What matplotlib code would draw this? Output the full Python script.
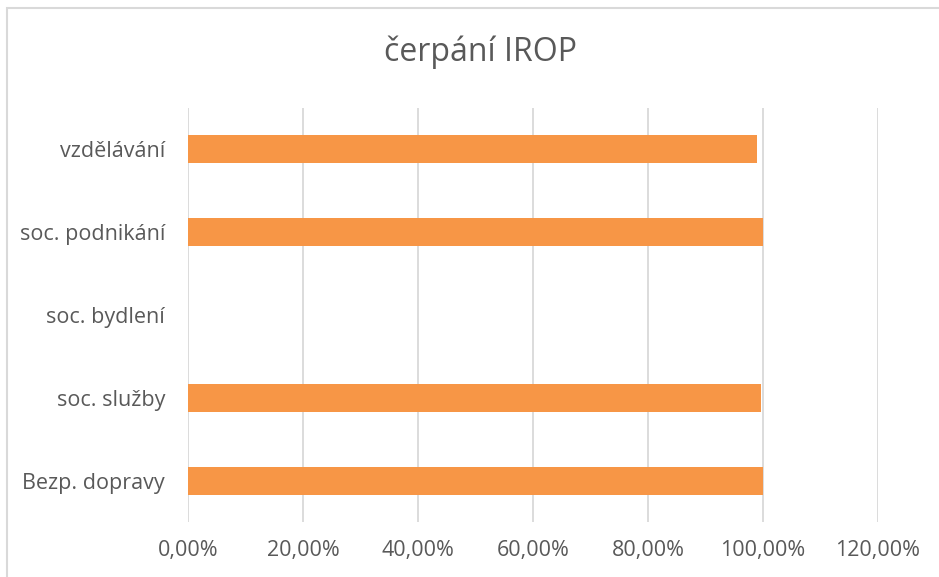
import matplotlib.pyplot as plt
from matplotlib.patches import Rectangle
from matplotlib.ticker import FuncFormatter

categories = ['Bezp. dopravy', 'soc. služby', 'soc. bydlení', 'soc. podnikání', 'vzdělávání']
values = [1.0, 0.997, 0.0, 1.0, 0.99]
xticks = [0, 0.2, 0.4, 0.6, 0.8, 1.0, 1.2]

plt.rcParams['font.family'] = ['Open Sans', 'DejaVu Sans']
text_color = '#595959'

fig = plt.figure(figsize=(9.39, 5.77), dpi=100)
W, H = 939, 577
ax = fig.add_axes([188 / W, 1 - 522 / H, (878 - 188) / W, (522 - 108) / H])

# chart border (cut off on right and bottom like the reference)
fig.patches.append(Rectangle((7 / W, -0.1), 1.2, 1 - 8 / H + 0.1, transform=fig.transFigure,
                             fill=False, edgecolor='#d9d9d9', linewidth=1.5))

ax.barh(range(len(categories)), values, height=0.34, color='#f79646', zorder=3)
ax.set_xlim(0, 1.2)
ax.set_ylim(-0.5, len(categories) - 0.5)
ax.set_xticks(xticks)
ax.xaxis.set_major_formatter(FuncFormatter(lambda v, p: f'{v * 100:.2f}%'.replace('.', ',')))
ax.set_yticks(range(len(categories)))
ax.set_yticklabels(categories)
ax.grid(axis='x', color='#d9d9d9', linewidth=1.3, zorder=0)
for s in ax.spines.values():
    s.set_visible(False)
ax.tick_params(axis='both', length=0, labelsize=15.5, colors=text_color)
ax.tick_params(axis='x', pad=13)
ax.tick_params(axis='y', pad=16.5)

fig.text(480 / W, 1 - 52 / H, 'čerpání IROP', ha='center', va='center', fontsize=23, color=text_color)

fig.savefig('out.png', dpi=100)
